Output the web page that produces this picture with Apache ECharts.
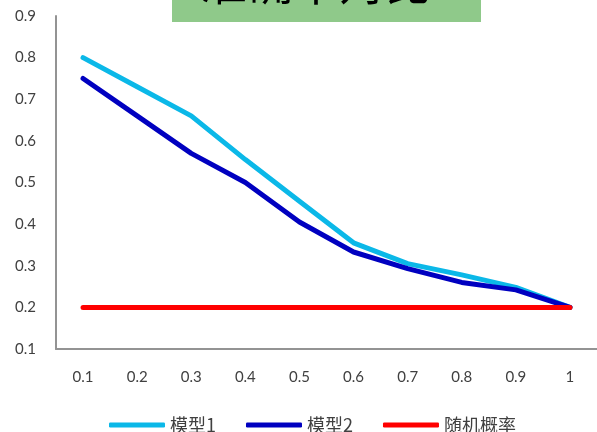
<!DOCTYPE html>
<html>
<head>
<meta charset="utf-8">
<script src="https://cdn.jsdelivr.net/npm/echarts@6/dist/echarts.min.js"></script>
<style>
  html, body { margin: 0; padding: 0; background: #fff; }
  #chart { width: 597px; height: 432px; }
</style>
</head>
<body>
<div id="chart"></div>
<script>
// Thresholds along the x axis
const categories = ['0.1', '0.2', '0.3', '0.4', '0.5', '0.6', '0.7', '0.8', '0.9', '1'];
// Series values
const model1 = [0.80, 0.73, 0.66, 0.555, 0.455, 0.355, 0.305, 0.278, 0.248, 0.20];
const model2 = [0.75, 0.66, 0.57, 0.50, 0.405, 0.333, 0.293, 0.26, 0.242, 0.20];
const randomRate = [0.20, 0.20, 0.20, 0.20, 0.20, 0.20, 0.20, 0.20, 0.20, 0.20];
const seriesNames = ['模型1', '模型2', '随机概率'];
const titleText = '准确率对比';

const chart = echarts.init(document.getElementById('chart'), null, { renderer: 'canvas' });
const labelFont = { color: '#404040', fontSize: 15, fontFamily: 'Lato, "Noto Sans", sans-serif' };

chart.setOption({
  animation: false,
  backgroundColor: '#ffffff',
  grid: { left: 56, right: -5, top: 16, bottom: 83, containLabel: false },
  xAxis: {
    type: 'category',
    data: categories,
    boundaryGap: true,
    axisLine: { show: true, lineStyle: { color: '#939393', width: 2 } },
    axisTick: { show: false },
    axisLabel: Object.assign({ margin: 21 }, labelFont),
    splitLine: { show: false }
  },
  yAxis: {
    type: 'value',
    min: 0.1,
    max: 0.9,
    interval: 0.1,
    axisLine: { show: true, lineStyle: { color: '#939393', width: 2 } },
    axisTick: { show: false },
    axisLabel: Object.assign({ margin: 20, formatter: v => (Math.round(v * 10) / 10).toString() }, labelFont),
    splitLine: { show: false }
  },
  legend: {
    left: 104,
    top: 411,
    icon: 'roundRect',
    itemWidth: 56,
    itemHeight: 5,
    itemGap: 30,
    textStyle: { color: '#404040', fontSize: 18, fontFamily: '"Noto Sans CJK SC", sans-serif' },
    data: seriesNames
  },
  series: [
    { name: seriesNames[0], type: 'line', data: model1, symbol: 'none', color: '#0bb8e8',
      lineStyle: { width: 5, color: '#0bb8e8', cap: 'round', join: 'round' } },
    { name: seriesNames[1], type: 'line', data: model2, symbol: 'none', color: '#0000c0',
      lineStyle: { width: 5, color: '#0000c0', cap: 'round', join: 'round' } },
    { name: seriesNames[2], type: 'line', data: randomRate, symbol: 'none', color: '#ff0000',
      lineStyle: { width: 5, color: '#ff0000', cap: 'round', join: 'round' } }
  ],
  graphic: [
    { type: 'rect', left: 172, top: -10, shape: { width: 309, height: 32 },
      style: { fill: '#8fc98a' }, z: 100 },
    { type: 'text', x: 316, y: -17, z: 101,
      style: { text: titleText, fill: '#000', fontSize: 46, fontFamily: '"Noto Sans CJK SC", sans-serif',
               align: 'center', verticalAlign: 'middle' } }
  ]
});
</script>
</body>
</html>
